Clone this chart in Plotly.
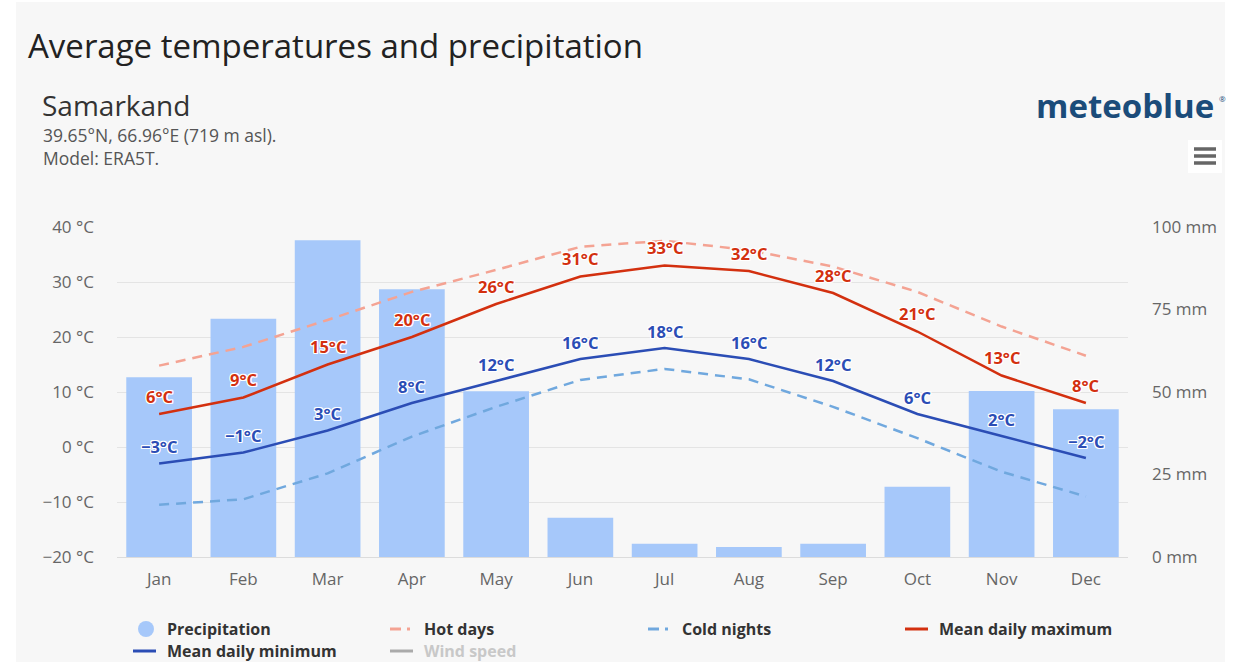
import plotly.graph_objects as go

# Monthly climate normals for Samarkand
months = ["Jan", "Feb", "Mar", "Apr", "May", "Jun", "Jul", "Aug", "Sep", "Oct", "Nov", "Dec"]
precipitation_mm = [54.5, 72.2, 96.0, 81.1, 50.2, 11.9, 4.0, 3.0, 4.0, 21.3, 50.3, 44.8]
mean_max = [6, 9, 15, 20, 26, 31, 33, 32, 28, 21, 13, 8]
mean_min = [-3, -1, 3, 8, 12, 16, 18, 16, 12, 6, 2, -2]
hot_days = [14.8, 18.2, 23.1, 28.2, 32.2, 36.4, 37.5, 35.8, 32.8, 28.2, 21.9, 16.6]
cold_nights = [-10.5, -9.5, -4.8, 1.9, 7.3, 12.2, 14.2, 12.3, 7.3, 1.6, -4.5, -9.0]

temp_ticks = [-20, -10, 0, 10, 20, 30, 40]
precip_ticks = [0, 25, 50, 75, 100]

W, H = 1248, 662
L, R, T, B = 117, 1128, 227, 557

C_BAR = "#a6c8fa"
C_MAX = "#d3300f"
C_MIN = "#2b4db5"
C_HOT = "#f4a393"
C_COLD = "#70a8de"
C_BG = "#f7f7f7"
FONT = "Open Sans"


def px(x):
    return (x - L) / (R - L)


def py(y):
    return (B - y) / (B - T)


def fmt(v):
    return ("\u2212" if v < 0 else "") + f"{abs(v)}°C"


HALO = "1px 1px 0 #fff, -1px -1px 0 #fff, 1px -1px 0 #fff, -1px 1px 0 #fff, 0 1px 0 #fff, 0 -1px 0 #fff, 1px 0 0 #fff, -1px 0 0 #fff"

fig = go.Figure()

fig.add_trace(go.Bar(
    x=months, y=precipitation_mm, name="Precipitation",
    marker=dict(color=C_BAR, line=dict(width=0)), yaxis="y",
    width=0.78,
))
fig.add_trace(go.Scatter(
    x=months, y=hot_days, name="Hot days", mode="lines", yaxis="y2",
    line=dict(color=C_HOT, width=2.5, dash="10px,7px"),
))
fig.add_trace(go.Scatter(
    x=months, y=cold_nights, name="Cold nights", mode="lines", yaxis="y2",
    line=dict(color=C_COLD, width=2.5, dash="10px,7px"),
))
fig.add_trace(go.Scatter(
    x=months, y=mean_max, name="Mean daily maximum", mode="lines", yaxis="y2",
    line=dict(color=C_MAX, width=2.5),
))
fig.add_trace(go.Scatter(
    x=months, y=mean_min, name="Mean daily minimum", mode="lines", yaxis="y2",
    line=dict(color=C_MIN, width=2.5),
))

annotations = []
for m, v in zip(months, mean_max):
    annotations.append(dict(
        x=m, y=v, xref="x", yref="y2", text=fmt(v), showarrow=False,
        yanchor="middle", yshift=18,
        font=dict(family=FONT, size=16.5, color=C_MAX, weight="bold", shadow=HALO),
    ))
for m, v in zip(months, mean_min):
    annotations.append(dict(
        x=m, y=v, xref="x", yref="y2", text=fmt(v), showarrow=False,
        yanchor="middle", yshift=17,
        font=dict(family=FONT, size=16.5, color=C_MIN, weight="bold", shadow=HALO),
    ))

# Header texts
annotations += [
    dict(x=px(26), y=py(45), xref="paper", yref="paper", xanchor="left", yanchor="middle",
         text="Average temperatures and precipitation", showarrow=False,
         font=dict(family=FONT, size=33, color="#222")),
    dict(x=px(40), y=py(105), xref="paper", yref="paper", xanchor="left", yanchor="middle",
         text="Samarkand", showarrow=False,
         font=dict(family=FONT, size=28, color="#333")),
    dict(x=px(41), y=py(135), xref="paper", yref="paper", xanchor="left", yanchor="middle",
         text="39.65°N, 66.96°E (719 m asl).", showarrow=False,
         font=dict(family=FONT, size=17.5, color="#555")),
    dict(x=px(41), y=py(158), xref="paper", yref="paper", xanchor="left", yanchor="middle",
         text="Model: ERA5T.", showarrow=False,
         font=dict(family=FONT, size=17.5, color="#555")),
    dict(x=px(1216), y=py(106), xref="paper", yref="paper", xanchor="right", yanchor="middle",
         text="meteoblue", showarrow=False,
         font=dict(family=FONT, size=33, color="#1b4c7a", weight="bold")),
    dict(x=px(1217), y=py(98), xref="paper", yref="paper", xanchor="left", yanchor="middle",
         text="®", showarrow=False,
         font=dict(family=FONT, size=8, color="#1b4c7a")),
]

shapes = [
    # panel background
    dict(type="rect", xref="paper", yref="paper", x0=px(16), x1=px(1225), y0=py(662), y1=py(2),
         fillcolor=C_BG, line=dict(width=0), layer="below"),
    # menu button
    dict(type="rect", xref="paper", yref="paper", x0=px(1188), x1=px(1222), y0=py(173), y1=py(140),
         fillcolor="#ffffff", line=dict(width=0)),
]
for yy in (149, 156, 163):
    shapes.append(dict(type="line", xref="paper", yref="paper", x0=px(1194), x1=px(1216),
                       y0=py(yy), y1=py(yy), line=dict(color="#666", width=3.5)))

# Legend
legend_items = [
    ("Precipitation", 146, 629, "dot", C_BAR, "#333"),
    ("Hot days", 390, 629, "dash", C_HOT, "#333"),
    ("Cold nights", 648, 629, "dash", C_COLD, "#333"),
    ("Mean daily maximum", 905, 629, "line", C_MAX, "#333"),
    ("Mean daily minimum", 133, 651, "line", C_MIN, "#333"),
    ("Wind speed", 390, 651, "line", "#aaaaaa", "#c8c8c8"),
]
for label, x, y, kind, col, tcol in legend_items:
    if kind == "dot":
        shapes.append(dict(type="circle", xref="paper", yref="paper",
                           x0=px(x - 8), x1=px(x + 8), y0=py(y + 8), y1=py(y - 8),
                           fillcolor=col, line=dict(width=0)))
        tx = 165
    elif kind == "dash":
        shapes.append(dict(type="line", xref="paper", yref="paper",
                           x0=px(x), x1=px(x + 11), y0=py(y), y1=py(y), line=dict(color=col, width=3)))
        shapes.append(dict(type="line", xref="paper", yref="paper",
                           x0=px(x + 17), x1=px(x + 20), y0=py(y), y1=py(y), line=dict(color=col, width=3)))
        tx = x + 32
    else:
        shapes.append(dict(type="line", xref="paper", yref="paper",
                           x0=px(x), x1=px(x + 23), y0=py(y), y1=py(y), line=dict(color=col, width=3)))
        tx = x + 32
    annotations.append(dict(x=px(tx), y=py(y), xref="paper", yref="paper", xanchor="left",
                            yanchor="middle", text=label, showarrow=False,
                            font=dict(family=FONT, size=16, color=tcol, weight="bold")))

fig.update_layout(
    width=W, height=H,
    margin=dict(l=L, r=W - R, t=T, b=H - B, pad=0),
    paper_bgcolor="#ffffff",
    plot_bgcolor=C_BG,
    showlegend=False,
    bargap=0.22,
    font=dict(family=FONT, color="#666"),
    xaxis=dict(
        type="category", showgrid=False, zeroline=False, showline=True,
        linecolor="#dcdcdc", linewidth=1, ticks="",
        tickfont=dict(size=17, color="#666"), ticklabelstandoff=7,
    ),
    yaxis=dict(
        side="right", range=[0, 100], tickvals=precip_ticks,
        ticktext=[f"{v} mm" for v in precip_ticks],
        showgrid=False, zeroline=False, showline=False,
        tickfont=dict(size=17, color="#666"), ticklabelstandoff=23,
    ),
    yaxis2=dict(
        overlaying="y", side="left", range=[-20, 40], tickvals=temp_ticks,
        ticktext=[fmt(v).replace("°C", " °C") for v in temp_ticks],
        showgrid=True, gridcolor="#e4e4e4", gridwidth=1, zeroline=False,
        tickfont=dict(size=17, color="#666"), ticklabelstandoff=22,
    ),
    annotations=annotations,
    shapes=shapes,
)

fig.write_html("out.html")
